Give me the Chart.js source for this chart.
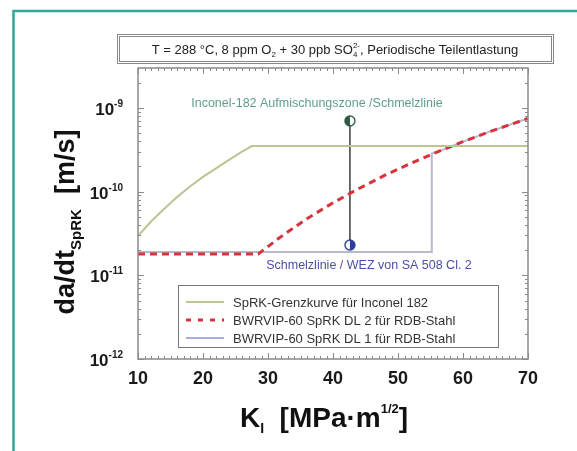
<!DOCTYPE html>
<html>
<head>
<meta charset="utf-8">
<script src="https://cdn.jsdelivr.net/npm/chart.js@4.4.0/dist/chart.umd.min.js"></script>
<style>
  html, body { margin: 0; padding: 0; background: #fff; }
  #wrap { position: relative; width: 577px; height: 451px; }
</style>
</head>
<body>
<div id="wrap"><canvas id="grafico" width="577" height="451"></canvas></div>
<script>
// SpRK-Grenzkurve Inconel 182 (K in MPa*m^1/2, da/dt in m/s)
var kGrenz = [10, 12, 14, 16, 18, 20, 22, 24, 26, 27.5, 70];
var vGrenz = [2.95e-11, 4.4e-11, 6.2e-11, 8.6e-11, 1.15e-10, 1.5e-10, 1.9e-10, 2.4e-10, 3.0e-10, 3.5e-10, 3.5e-10];

// BWRVIP-60 DL 2
var kDL2 = [10, 28.5, 32, 36, 40, 44, 48, 52, 56, 60, 64, 70];
var vDL2 = [1.8e-11, 1.8e-11, 2.9e-11, 4.75e-11, 7.35e-11, 1.09e-10, 1.57e-10, 2.18e-10, 2.97e-10, 3.95e-10, 5.17e-10, 7.5e-10];

// BWRVIP-60 DL 1
var kDL1 = [10, 55.2, 55.2, 56, 60, 64, 70];
var vDL1 = [1.9e-11, 1.9e-11, 2.85e-10, 2.97e-10, 3.95e-10, 5.17e-10, 7.5e-10];

// Messpunkte Aufmischungszone (oben) und WEZ (unten)
var kMessung = [42.6, 42.6];
var vMessung = [7.0e-10, 2.3e-11];

var xTicks = [10, 20, 30, 40, 50, 60, 70];
var yTicks = [1e-12, 1e-11, 1e-10, 1e-9];
var yExponenten = ['-12', '-11', '-10', '-9'];
var legendeTexte = ['SpRK-Grenzkurve für Inconel 182', 'BWRVIP-60 SpRK DL 2 für RDB-Stahl', 'BWRVIP-60 SpRK DL 1 für RDB-Stahl'];

var FONT = '"Liberation Sans", Arial, Helvetica, sans-serif';
var farbeGrenz = '#bcc592';
var farbeDL2 = '#d8323d';
var farbeDL1 = '#b7b9cc';

function punkte(ks, vs) {
    return ks.map(function (k, i) { return { x: k, y: vs[i] }; });
}

// halb gefuellter Kreis als Punktsymbol
function halbKreis(farbe, links) {
    var c = document.createElement('canvas');
    c.width = 14; c.height = 14;
    var g = c.getContext('2d');
    g.fillStyle = '#fff';
    g.beginPath(); g.arc(7, 7, 5, 0, Math.PI * 2); g.fill();
    g.fillStyle = farbe;
    g.beginPath();
    if (links) g.arc(7, 7, 5, Math.PI * 0.5, Math.PI * 1.5);
    else g.arc(7, 7, 5, -Math.PI * 0.5, Math.PI * 0.5);
    g.closePath(); g.fill();
    g.strokeStyle = farbe; g.lineWidth = 1.4;
    g.beginPath(); g.arc(7, 7, 5, 0, Math.PI * 2); g.stroke();
    return c;
}

// Text mit Hoch-/Tiefstellungen: [{t, size, bold, dy, adv}]
function textBreite(ctx, segs) {
    var w = 0;
    segs.forEach(function (s) {
        ctx.font = (s.bold ? 'bold ' : '') + s.size + 'px ' + FONT;
        if (s.adv !== false) w += ctx.measureText(s.t).width;
    });
    return w;
}
function zeichneText(ctx, segs, x, y, align, farbe) {
    var w = textBreite(ctx, segs);
    var cx = align === 'center' ? x - w / 2 : (align === 'right' ? x - w : x);
    ctx.fillStyle = farbe;
    ctx.textAlign = 'left';
    ctx.textBaseline = 'alphabetic';
    segs.forEach(function (s) {
        ctx.font = (s.bold ? 'bold ' : '') + s.size + 'px ' + FONT;
        ctx.fillText(s.t, cx, y + (s.dy || 0));
        if (s.adv !== false) cx += ctx.measureText(s.t).width;
    });
}

var rahmenPlugin = {
    id: 'rahmen',
    beforeDraw: function (chart) {
        var ctx = chart.ctx;
        ctx.save();
        ctx.fillStyle = '#fff';
        ctx.fillRect(0, 0, chart.width, chart.height);
        ctx.restore();
    },
    afterDatasetsDraw: function (chart) {
        var ctx = chart.ctx;
        var a = chart.chartArea;
        var xs = chart.scales.x, ys = chart.scales.y;
        ctx.save();

        // Achsenrahmen
        ctx.strokeStyle = '#8a8a8a';
        ctx.lineWidth = 1.5;
        ctx.strokeRect(a.left, a.top, a.right - a.left, a.bottom - a.top);

        // Teilstriche x (unten und oben)
        ctx.lineWidth = 1;
        ctx.strokeStyle = '#8a8a8a';
        ctx.beginPath();
        for (var k = xs.min; k <= xs.max; k++) {
            var px = Math.round(xs.getPixelForValue(k)) + 0.5;
            var len = (k % 10 === 0) ? 6 : 3;
            ctx.moveTo(px, a.bottom); ctx.lineTo(px, a.bottom - len);
            ctx.moveTo(px, a.top); ctx.lineTo(px, a.top + len);
        }
        // Teilstriche y (links und rechts), logarithmisch
        yTicks.forEach(function (dek) {
            for (var m = 1; m <= 9; m++) {
                var v = dek * m;
                if (v > ys.max) break;
                var py = Math.round(ys.getPixelForValue(v)) + 0.5;
                var l = (m === 1) ? 6 : 3;
                ctx.moveTo(a.left, py); ctx.lineTo(a.left + l, py);
                ctx.moveTo(a.right, py); ctx.lineTo(a.right - l, py);
            }
        });
        ctx.stroke();

        // x-Beschriftung
        xTicks.forEach(function (k) {
            zeichneText(ctx, [{ t: String(k), size: 18, bold: true }], xs.getPixelForValue(k), a.bottom + 25, 'center', '#1a1a1a');
        });
        // y-Beschriftung 10^n
        yTicks.forEach(function (v, i) {
            var py = ys.getPixelForValue(v);
            zeichneText(ctx, [
                { t: '10', size: 17, bold: true },
                { t: yExponenten[i], size: 10, bold: true, dy: -8 }
            ], 123, py + 7, 'right', '#1a1a1a');
        });

        // Achsentitel x
        zeichneText(ctx, [
            { t: 'K', size: 28, bold: true },
            { t: 'I', size: 14, bold: true, dy: 6 },
            { t: '  [MPa·m', size: 28, bold: true },
            { t: '1/2', size: 13, bold: true, dy: -14 },
            { t: ']', size: 28, bold: true }
        ], 324, 427, 'center', '#111');

        // Achsentitel y (gedreht)
        ctx.save();
        ctx.translate(74, 222);
        ctx.rotate(-Math.PI / 2);
        zeichneText(ctx, [
            { t: 'da/dt', size: 27, bold: true },
            { t: 'SpRK', size: 15, bold: true, dy: 7 },
            { t: '  [m/s]', size: 27, bold: true }
        ], 0, 0, 'center', '#111');
        ctx.restore();

        // Beschriftungen im Diagramm
        zeichneText(ctx, [{ t: 'Inconel-182 Aufmischungszone /Schmelzlinie', size: 12.5 }], 317, 107, 'center', '#5f9e8f');
        zeichneText(ctx, [{ t: 'Schmelzlinie / WEZ von SA 508 Cl. 2', size: 12.5 }], 369, 269, 'center', '#4b4fa8');

        // Legende
        ctx.fillStyle = '#fff';
        ctx.fillRect(178.5, 285.5, 320, 62);
        ctx.strokeStyle = '#777';
        ctx.lineWidth = 1;
        ctx.strokeRect(178.5, 285.5, 320, 62);
        var legStil = [
            { farbe: farbeGrenz, breite: 2, dash: [] },
            { farbe: farbeDL2, breite: 3, dash: [5, 7] },
            { farbe: '#a9acd6', breite: 2, dash: [] }
        ];
        legendeTexte.forEach(function (txt, i) {
            var y = 302 + i * 18;
            ctx.strokeStyle = legStil[i].farbe;
            ctx.lineWidth = legStil[i].breite;
            ctx.setLineDash(legStil[i].dash);
            ctx.beginPath(); ctx.moveTo(186, y); ctx.lineTo(224, y); ctx.stroke();
            ctx.setLineDash([]);
            zeichneText(ctx, [{ t: txt, size: 13 }], 233, y + 5, 'left', '#333');
        });

        // Titelkasten
        ctx.strokeStyle = '#888';
        ctx.lineWidth = 1;
        ctx.strokeRect(117.5, 34.5, 436, 29);
        ctx.strokeRect(119.5, 36.5, 432, 25);
        zeichneText(ctx, [
            { t: 'T = 288 °C, 8 ppm O', size: 13 },
            { t: '2', size: 8, dy: 3 },
            { t: ' + 30 ppb SO', size: 13 },
            { t: '4', size: 8, dy: 3, adv: false },
            { t: '2-', size: 8, dy: -6 },
            { t: ', Periodische Teilentlastung', size: 13 }
        ], 335, 54, 'center', '#222');

        // aeusserer Rahmen
        ctx.strokeStyle = '#2fa896';
        ctx.lineWidth = 2.5;
        ctx.beginPath();
        ctx.moveTo(13.5, 451); ctx.lineTo(13.5, 11); ctx.lineTo(577, 11);
        ctx.stroke();

        ctx.restore();
    }
};

var ctx = document.getElementById('grafico').getContext('2d');
var grafico = new Chart(ctx, {
    type: 'scatter',
    data: {
        datasets: [
            {
                label: legendeTexte[0],
                data: punkte(kGrenz, vGrenz),
                showLine: true,
                borderColor: farbeGrenz,
                borderWidth: 2,
                pointRadius: 0
            },
            {
                label: legendeTexte[1],
                data: punkte(kDL2, vDL2),
                showLine: true,
                borderColor: farbeDL2,
                borderWidth: 3,
                borderDash: [7, 5],
                pointRadius: 0
            },
            {
                label: legendeTexte[2],
                data: punkte(kDL1, vDL1),
                showLine: true,
                borderColor: farbeDL1,
                borderWidth: 2,
                pointRadius: 0
            },
            {
                label: 'Messung',
                data: punkte(kMessung, vMessung),
                showLine: true,
                borderColor: '#555',
                borderWidth: 1,
                pointStyle: [halbKreis('#2e5a40', true), halbKreis('#2b3d9e', false)],
                pointRadius: 6
            }
        ]
    },
    options: {
        responsive: false,
        animation: false,
        layout: { padding: { left: 138, top: 68, right: 49, bottom: 92 } },
        scales: {
            x: { type: 'linear', min: 10, max: 70, display: false },
            y: { type: 'logarithmic', min: 1e-12, max: 3e-9, display: false }
        },
        plugins: {
            legend: { display: false },
            tooltip: { enabled: false }
        }
    },
    plugins: [rahmenPlugin]
});
</script>
</body>
</html>
